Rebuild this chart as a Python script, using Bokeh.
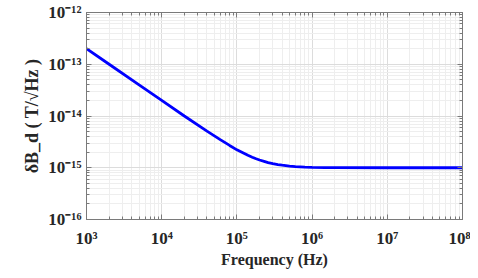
from bokeh.plotting import figure
from bokeh.models import (LogAxis, CustomJSTickFormatter, FixedTicker, Range1d)
from bokeh.embed import file_html
from bokeh.resources import INLINE

# data
freq = [1e3, 2e3, 5e3, 1e4, 2e4, 4e4, 6e4, 8e4, 1e5, 1.2e5, 1.4e5, 1.6e5, 1.8e5,
        2e5, 2.3e5, 2.6e5, 3e5, 3.5e5, 4e5, 5e5, 6e5, 8e5, 1e6, 1.5e6, 2e6,
        1e7, 1e8]
noise = [2.0e-13, 1.0e-13, 4.0e-14, 2.0e-14, 1.0e-14, 5.1e-15, 3.5e-15, 2.7e-15,
         2.22e-15, 1.95e-15, 1.74e-15, 1.6e-15, 1.49e-15, 1.41e-15, 1.33e-15,
         1.26e-15, 1.2e-15, 1.15e-15, 1.12e-15, 1.08e-15, 1.055e-15, 1.03e-15,
         1.02e-15, 1.01e-15, 1.005e-15, 1.0e-15, 1.0e-15]
x_ticks = [1e3, 1e4, 1e5, 1e6, 1e7, 1e8]
y_ticks = [1e-16, 1e-15, 1e-14, 1e-13, 1e-12]
x_label = "Frequency (Hz)"
y_label = "\u03b4B_d ( T/\u221aHz )"

W, H = 470, 270
p = figure(width=W, height=H, x_axis_type="log", y_axis_type="log",
           output_backend="svg", toolbar_location=None,
           x_range=Range1d(1e3, 1e8), y_range=Range1d(1e-16, 1e-12),
           min_border_left=86, min_border_right=8, min_border_top=12,
           min_border_bottom=41)
p.background_fill_color = "white"
p.border_fill_color = "white"
p.outline_line_color = "#7a7a7a"
p.outline_line_width = 1

fmt = CustomJSTickFormatter(code="""
const sup = {'0':'\\u2070','1':'\\u00b9','2':'\\u00b2','3':'\\u00b3','4':'\\u2074',
 '5':'\\u2075','6':'\\u2076','7':'\\u2077','8':'\\u2078','9':'\\u2079','-':'\\u207b'};
const e = String(Math.round(Math.log10(tick)));
let s = '';
for (const c of e) { s += sup[c]; }
return '10' + s;
""")
blank = CustomJSTickFormatter(code="return ' ';")

def minors(ticks):
    return [m * t for t in ticks[:-1] for m in range(2, 10)]

def style(ax):
    ax.axis_line_color = "#7a7a7a"
    ax.major_tick_line_color = "#7a7a7a"
    ax.minor_tick_line_color = "#7a7a7a"
    ax.major_tick_in = 5
    ax.major_tick_out = 0
    ax.minor_tick_in = 3
    ax.minor_tick_out = 0

for ax, ticks in ((p.xaxis[0], x_ticks), (p.yaxis[0], y_ticks)):
    ax.ticker = FixedTicker(ticks=ticks, minor_ticks=minors(ticks))
    ax.formatter = fmt
    ax.major_label_text_font = "Liberation Serif"
    ax.major_label_text_font_style = "bold"
    ax.major_label_text_font_size = "17px"
    ax.major_label_text_color = "#262626"
    style(ax)
p.xaxis[0].major_label_standoff = 9
p.yaxis[0].major_label_standoff = 5

p.xaxis[0].axis_label = x_label
p.xaxis[0].axis_label_text_font = "Liberation Serif"
p.xaxis[0].axis_label_text_font_style = "bold"
p.xaxis[0].axis_label_text_font_size = "16px"
p.xaxis[0].axis_label_text_color = "#262626"
p.xaxis[0].axis_label_standoff = 0

p.yaxis[0].axis_label = y_label
p.yaxis[0].axis_label_text_font = "Liberation Serif"
p.yaxis[0].axis_label_text_font_style = "bold"
p.yaxis[0].axis_label_text_font_size = "18px"
p.yaxis[0].axis_label_text_color = "#262626"
p.yaxis[0].axis_label_standoff = 3

# box ticks on top and right
top = LogAxis(ticker=FixedTicker(ticks=x_ticks, minor_ticks=minors(x_ticks)),
              formatter=blank, major_label_text_font_size="1px",
              major_label_standoff=0)
right = LogAxis(ticker=FixedTicker(ticks=y_ticks, minor_ticks=minors(y_ticks)),
                formatter=blank, major_label_text_font_size="1px",
                major_label_standoff=0)
style(top)
style(right)
p.add_layout(top, "above")
p.add_layout(right, "right")

p.xgrid.ticker = p.xaxis[0].ticker
p.ygrid.ticker = p.yaxis[0].ticker
p.xgrid.grid_line_color = "#dcdcdc"
p.ygrid.grid_line_color = "#dcdcdc"
p.xgrid.minor_grid_line_color = "#eeeeee"
p.ygrid.minor_grid_line_color = "#eeeeee"

p.line(freq, noise, line_color="#0000ff", line_width=2.8)

open("out.html", "w").write(file_html(p, INLINE))
